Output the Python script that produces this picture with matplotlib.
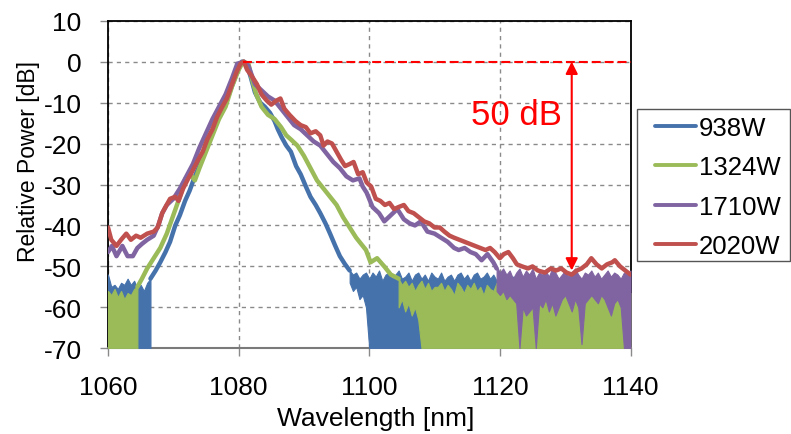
import numpy as np
import matplotlib
matplotlib.use("Agg")
import matplotlib.pyplot as plt
from matplotlib.patches import Rectangle

plt.rcParams['font.family'] = ['Liberation Sans', 'DejaVu Sans']
plt.rcParams['axes.unicode_minus'] = False

# ---------------- data ----------------
series_names = ["938W", "1324W", "1710W", "2020W"]
colors = ["#4672AC", "#9BBB59", "#8064A2", "#C0504D"]

# 938W main trace
blue_x = [1066.5, 1067.3, 1068, 1068.8, 1069.5, 1070.3, 1071, 1071.8, 1072.5, 1073.3,
          1074, 1074.8, 1075.5, 1076.3, 1077, 1077.8, 1078.5, 1079.2, 1079.8, 1080.5,
          1081.2, 1081.8, 1082.5, 1083.3, 1084, 1084.8, 1085.5, 1086, 1086.6, 1087.3,
          1088, 1088.8, 1089.5, 1090.3, 1091, 1091.8, 1092.5, 1093.3, 1094, 1094.8,
          1095.5, 1096.3, 1097]
blue_y = [-53, -51, -49, -46.5, -44, -40, -37.5, -34, -31.5, -28,
          -25.5, -22, -19.5, -16, -13.5, -10.5, -8, -5, -2.5, 0,
          -0.5, -3.5, -7.5, -10, -11, -12.5, -14.5, -16.5, -18.5, -20.5,
          -22, -25.5, -27.5, -30.5, -33, -35, -37, -39.5, -42, -45,
          -47.5, -49.5, -51]
# 938W noise floor (0.5 nm spacing)
blue_noise_left_start = 1060.0
blue_noise_left_top = [-52, -55, -54.5, -55.5, -54, -54.5, -53, -54.5, -53.5, -55.5,
                       -54.5, -56, -54, -53]
blue_noise_left_bot = [-70] * 14
blue_noise_right_start = 1097.0
blue_noise_right_top = [-51, -52, -51.5, -53, -52, -51.5, -53, -51.5, -52.5, -51,
                        -53.5, -52, -51.5, -53, -52, -51, -53, -52.5, -51.5, -53.5,
                        -52, -51.5, -53, -52, -53.5, -51.5, -52.5, -53, -51.5, -53.5,
                        -52.5, -52, -53.5, -52, -51.5, -53, -52, -53.5, -52, -51.5,
                        -53, -52.5, -51.5, -53, -52, -53.5, -52.5, -53, -52, -53.5,
                        -52.5, -53, -52, -54, -53, -54]
blue_noise_right_bot = [-54, -56, -55, -58, -57, -60, -70, -70, -70, -70,
                        -70, -70, -70, -70, -70, -70, -70, -70, -70, -70,
                        -70, -70, -70, -70, -70, -70, -70, -70, -70, -70,
                        -70, -70, -70, -70, -70, -70, -70, -70, -70, -70,
                        -70, -70, -70, -70, -70, -70, -70, -70, -70, -70,
                        -70, -70, -70, -70, -70, -70]

# 1324W main trace
green_x = [1064.5, 1065.2, 1066, 1067, 1068, 1069, 1070, 1071, 1071.9, 1072.6,
           1073.3, 1074, 1075, 1076, 1077, 1078, 1079, 1080, 1080.7, 1081.5,
           1082, 1082.7, 1083.5, 1084.5, 1085.5, 1086.5, 1087.3, 1088, 1089, 1090,
           1091, 1092, 1093, 1094, 1095, 1096, 1097, 1098, 1099, 1099.5,
           1100.2, 1101.2, 1102.3, 1103.3, 1104.5]
green_y = [-55, -53, -50.5, -48, -45.5, -42, -37.5, -33, -28.5, -27.5,
           -29, -26, -22, -18, -14, -11, -6, -2, 0, -0.5,
           -4, -8, -11, -13, -14, -16, -18, -19, -20.5, -23,
           -26, -29, -31, -33, -35, -38, -40.5, -43, -45, -46,
           -49, -48, -50, -52, -53]
green_noise_left_start = 1060.0
green_noise_left_top = [-56, -57, -55.5, -57.5, -56, -58, -56.5, -57, -55.5, -55]
green_noise_left_bot = [-70] * 10
green_noise_right_start = 1104.5
green_noise_right_top = [-53, -54.5, -53.5, -55, -54, -56, -54.5, -53.5, -55.5, -54,
                         -56, -55, -55, -54, -56, -54.5, -55.5, -57, -54, -55,
                         -56.5, -54.5, -55.5, -54, -56, -55, -57, -54.5, -55.5, -56,
                         -54, -55.5, -56, -57.5, -55.5, -57, -56, -58, -55, -56.5,
                         -57.5, -55.5, -57, -56, -58, -56.5, -55.5, -57, -56, -57.5,
                         -55, -56.5, -58, -56, -57, -55.5, -57.5, -56, -58, -56.5,
                         -55.5, -57, -56, -57.5, -56, -55.5, -57, -56.5, -58, -56,
                         -57, -56.5]
green_noise_right_bot = [-60, -58, -61, -59, -62, -60, -63, -70, -70, -70,
                         -70, -70, -70, -70, -70, -70, -70, -70, -70, -70,
                         -70, -70, -70, -70, -70, -70, -70, -70, -70, -70,
                         -70, -70, -70, -70, -70, -70, -70, -70, -70, -70,
                         -70, -70, -70, -70, -70, -70, -70, -70, -70, -70,
                         -70, -70, -70, -70, -70, -70, -70, -70, -70, -70,
                         -70, -70, -70, -70, -70, -70, -70, -70, -70, -70,
                         -70, -70]

# 1710W main trace
purple_x = [1060, 1060.6, 1061.3, 1062.2, 1063, 1063.8, 1064.5, 1065.2, 1066, 1067,
            1067.7, 1068.3, 1069, 1070, 1071, 1072, 1073, 1074, 1075, 1076,
            1077, 1078, 1079, 1079.8, 1080.8, 1081.5, 1082.5, 1083.5, 1084.5, 1085.5,
            1086.5, 1087.5, 1088.5, 1089.5, 1090.5, 1091.5, 1092.5, 1093.5, 1094.5, 1095.5,
            1096.5, 1097.5, 1098.5, 1099, 1099.6, 1100.5, 1101.5, 1102.3, 1103.3, 1104.3,
            1105.3, 1106.2, 1107, 1107.9, 1108.9, 1110, 1111, 1112, 1113, 1113.7,
            1114.6, 1115.5, 1116.3, 1117.2, 1118.1, 1119, 1119.5]
purple_y = [-46.5, -45, -47.5, -45, -47.5, -47.5, -45.5, -44.5, -43.5, -42.5,
            -40, -37, -35, -33.5, -31, -28, -25, -21, -17.5, -14,
            -11, -8, -4, -0.5, 0, -1, -5.5, -7, -8.5, -9.5,
            -11.5, -13.5, -15.5, -16.5, -18, -19.5, -20.5, -22.5, -24.5, -26,
            -28, -29, -28.5, -30.5, -32, -35.5, -37, -39, -37.5, -36,
            -38.5, -39.5, -40, -39, -41.5, -42, -43, -44, -45.5, -46,
            -45.5, -46.5, -47, -48.5, -47, -49, -50.5]
purple_noise_start = 1119.5
purple_noise_top = [-50, -51.5, -50.5, -52, -51, -53, -51.5, -50.5, -52.5, -51,
                    -52, -50.5, -53, -51.5, -52, -51, -52.5, -50.5, -51.5, -53,
                    -52, -51, -52.5, -51.5, -50.5, -52, -53, -51.5, -52, -51,
                    -52.5, -51.5, -53, -52, -51, -52.5, -51.5, -52, -53, -51.5,
                    -52, -51]
purple_noise_bot = [-56, -57, -56, -58, -57, -58, -59, -70, -60, -62,
                    -61, -60, -70, -59, -60, -58, -61, -59, -62, -60,
                    -58, -57, -59, -61, -58, -60, -69, -59, -58, -57,
                    -58, -59, -57, -58, -60, -62, -59, -58, -60, -70,
                    -70, -70]

# 2020W main trace
red_x = [1060, 1060.5, 1061.3, 1062, 1062.8, 1063.5, 1064.3, 1065, 1066, 1067,
         1067.6, 1068.3, 1068.8, 1069.5, 1070.3, 1070.8, 1071.5, 1072.3, 1073, 1073.8,
         1074.5, 1075.2, 1076, 1076.7, 1077.5, 1078.2, 1079, 1079.7, 1080.3, 1080.8,
         1081.3, 1082, 1082.8, 1083.5, 1084.3, 1085, 1085.8, 1086.4, 1087, 1087.8,
         1088.7, 1089.5, 1090.3, 1091, 1091.8, 1092.5, 1093, 1093.6, 1094.3, 1095,
         1095.7, 1096.3, 1097, 1097.6, 1098.3, 1099, 1099.6, 1100.3, 1101, 1101.7,
         1102.4, 1103.1, 1103.8, 1104.5, 1105.3, 1106, 1106.8, 1107.6, 1108.4, 1109.2,
         1110, 1110.8, 1111.5, 1112.3, 1113, 1113.8, 1114.6, 1115.4, 1116.2, 1117,
         1117.8, 1118.5, 1119.2, 1120, 1120.6, 1121.3, 1122, 1122.6, 1123.4, 1124.3,
         1125, 1125.8, 1126.9, 1127.8, 1128.6, 1129.4, 1130.2, 1131, 1131.8, 1132.5,
         1133.3, 1134, 1134.8, 1135.6, 1136.4, 1137.2, 1137.6, 1138.4, 1139.2, 1140]
red_y = [-40.5, -43.5, -45, -43.5, -42, -43.5, -42.5, -43, -42, -41.5,
         -40.5, -37, -35.5, -33.5, -33, -34, -31, -28.5, -26.5, -24,
         -22, -19, -16.5, -13.5, -11, -9, -5.5, -2.5, -0.5, 0,
         -2, -3.5, -5.5, -8, -9.5, -10.5, -9.5, -9, -11.5, -13,
         -14.5, -15.5, -16, -17.5, -17, -18, -20.5, -19.5, -20, -22,
         -24, -25.5, -25, -24.5, -27.5, -27, -29.5, -30.5, -33.5, -34,
         -35, -34.5, -36, -35.5, -35, -36.5, -37, -38, -39, -39.5,
         -40.5, -40.5, -41.5, -42.5, -43, -43.5, -44, -44.5, -45, -45.5,
         -46, -45.5, -46.5, -48, -47, -46.5, -48, -49.5, -50, -50.5,
         -50, -51, -51.5, -50.5, -51, -50.5, -51.5, -52, -51, -50.5,
         -49.5, -48, -49.5, -50.5, -49.5, -49, -48.5, -50, -51, -52]

# annotation values
ref_level = 0
floor_level = -51
arrow_wl = 1131
ref_line_start = 1080.7
label_text = "50 dB"

x_ticks = [1060, 1080, 1100, 1120, 1140]
y_ticks = [10, 0, -10, -20, -30, -40, -50, -60, -70]

# ---------------- figure ----------------
W, H = 791, 435
fig = plt.figure(figsize=(W / 100, H / 100), dpi=100)
ax = fig.add_axes([108 / W, 1 - 349.3 / H, (630.5 - 108) / W, (349.3 - 21.7) / H])


def noise_x(start, vals):
    return start + 0.5 * np.arange(len(vals))


def draw_series(c, lx, ly, noises, label):
    for start, top, bot in noises:
        nx = noise_x(start, top)
        ax.fill_between(nx, bot, top, color=c, lw=0.8, edgecolor=c, zorder=3)
    ax.plot(lx, ly, color=c, lw=3.2, solid_joinstyle='round', solid_capstyle='round',
            label=label, zorder=3)


draw_series(colors[0], blue_x, blue_y,
            [(blue_noise_left_start, blue_noise_left_top, blue_noise_left_bot),
             (blue_noise_right_start, blue_noise_right_top, blue_noise_right_bot)],
            series_names[0])
draw_series(colors[1], green_x, green_y,
            [(green_noise_left_start, green_noise_left_top, green_noise_left_bot),
             (green_noise_right_start, green_noise_right_top, green_noise_right_bot)],
            series_names[1])
draw_series(colors[2], purple_x, purple_y,
            [(purple_noise_start, purple_noise_top, purple_noise_bot)],
            series_names[2])
draw_series(colors[3], red_x, red_y, [], series_names[3])

ax.set_xlim(1060, 1140)
ax.set_ylim(-70, 10)
ax.set_xticks(x_ticks)
ax.set_yticks(y_ticks)
ax.grid(True, color='#8a8a8a', linestyle=(0, (3, 3)), lw=1.0, zorder=0)
ax.set_axisbelow(True)

for s in ['left', 'top', 'right']:
    ax.spines[s].set_color('black')
    ax.spines[s].set_linewidth(1.3)
ax.spines['bottom'].set_color('#7a7a7a')
ax.spines['bottom'].set_linewidth(1.5)
ax.tick_params(axis='both', direction='out', length=6, width=1, color='#8a8a8a',
               labelsize=19, labelcolor='black')
ax.tick_params(axis='y', pad=13)
ax.tick_params(axis='x', pad=13)

# reference line and arrow
ax.plot([ref_line_start, 1140], [ref_level, ref_level], color='#FF0000', lw=1.5,
        linestyle=(0, (4.3, 1.9)), zorder=5, clip_on=False)
ax.annotate('', xy=(arrow_wl, floor_level), xytext=(arrow_wl, ref_level),
            arrowprops=dict(arrowstyle='<|-|>,head_length=0.6,head_width=0.3',
                            color='#FF0000', lw=1.5, mutation_scale=12,
                            shrinkA=0, shrinkB=0), zorder=6)
ax.text(1122.5, -12.8, label_text, color='#FF0000', fontsize=25, ha='center', va='center',
        zorder=6)

ax.set_xlabel("Wavelength [nm]", fontsize=19)
ax.set_ylabel("Relative Power [dB]", fontsize=16.5)
ax.xaxis.set_label_coords((376 - 108) / 522.5, (349.3 - 407) / 327.6)
ax.yaxis.set_label_coords((40 - 108) / 522.5, (349.3 - 161.5) / 327.6)

# legend
handles, labels = ax.get_legend_handles_labels()
leg = fig.legend(handles, labels, loc='upper left', bbox_to_anchor=(655 / W, 1 - 117 / H),
                 bbox_transform=fig.transFigure, frameon=False, fontsize=18.5,
                 borderpad=0, borderaxespad=0, handlelength=1.6, handletextpad=0.1,
                 labelspacing=0.6)
for ln in leg.get_lines():
    ln.set_linewidth(2.8)
fig.patches.append(Rectangle((637 / W, 1 - 262 / H), (790 - 637) / W, (262 - 110) / H,
                             transform=fig.transFigure, fill=False, edgecolor='#555555',
                             lw=1.0))

fig.savefig("out.png", dpi=100)
